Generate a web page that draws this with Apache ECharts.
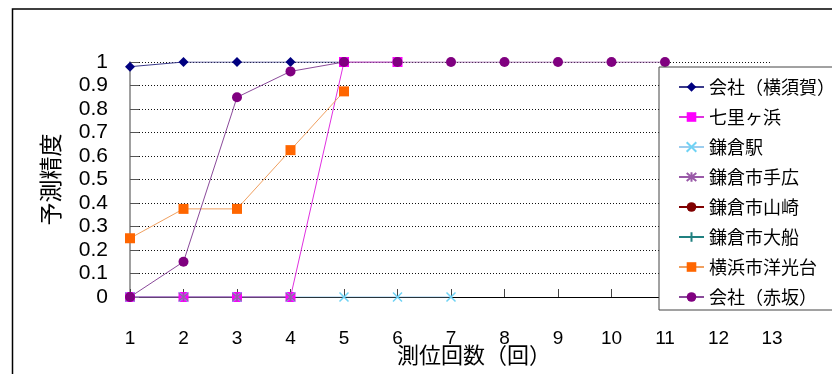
<!DOCTYPE html>
<html>
<head>
<meta charset="utf-8">
<script src="https://cdn.jsdelivr.net/npm/echarts@6/dist/echarts.min.js"></script>
<style>
  html, body { margin: 0; padding: 0; background: #fff; }
  #chart { width: 832px; height: 374px; }
</style>
</head>
<body>
<div id="chart"></div>
<script>
// Positioning rounds (x axis categories)
const rounds = ['1','2','3','4','5','6','7','8','9','10','11','12','13'];
const yTicks = [0, 0.1, 0.2, 0.3, 0.4, 0.5, 0.6, 0.7, 0.8, 0.9, 1];

// Prediction accuracy per location, indexed by round
const yokosuka = [0.98, 1, 1, 1, 1];
const shichirigahama = [0, 0, 0, 0, 1, 1];
const kamakuraStation = [0, 0, 0, 0, 0, 0, 0];
const kamakuraTebiro = [0, 0, 0, 0];
const kamakuraYamazaki = [];
const kamakuraOfuna = [];
const yokohamaYokodai = [0.25, 0.375, 0.375, 0.625, 0.875];
const akasaka = [0, 0.15, 0.85, 0.96, 1, 1, 1, 1, 1, 1, 1];

const seriesNames = ['会社（横須賀）', '七里ヶ浜', '鎌倉駅', '鎌倉市手広', '鎌倉市山崎', '鎌倉市大船', '横浜市洋光台', '会社（赤坂）'];

const JP = '"Noto Sans CJK JP", sans-serif';
const NUM = '"Liberation Sans", Arial, sans-serif';

const X_PATH = 'path://M0,0L10,10M10,0L0,10';
const STAR_PATH = 'path://M0,0L10,10M10,0L0,10M5,-1L5,11';
const PLUS_PATH = 'path://M5,0L5,10M0,5L10,5';

function lineSeries(name, data, color, symbol, size, lineColor, stroked) {
  return {
    name: name,
    type: 'line',
    data: data,
    symbol: symbol,
    symbolSize: size,
    showAllSymbol: true,
    animation: false,
    lineStyle: { color: lineColor || color, width: 1 },
    itemStyle: stroked
      ? { color: color, borderColor: color, borderWidth: 1.5 }
      : { color: color, borderWidth: 0 },
    emphasis: { disabled: true }
  };
}

const chart = echarts.init(document.getElementById('chart'));
chart.setOption({
  animation: false,
  backgroundColor: '#fff',
  grid: { left: 130, right: 60, top: 62, bottom: 77, containLabel: false, outerBoundsMode: 'none' },
  xAxis: {
    type: 'category',
    data: rounds,
    boundaryGap: false,
    name: '測位回数（回）',
    nameLocation: 'middle',
    nameMoveOverlap: false,
    nameGap: 47,
    nameTextStyle: { fontFamily: JP, fontSize: 22, color: '#000', padding: [0, 0, 0, 46] },
    axisLine: { lineStyle: { color: '#000', width: 1 } },
    axisTick: { inside: true, length: 8, lineStyle: { color: '#444' } },
    axisLabel: { margin: 32, fontFamily: NUM, fontSize: 19, color: '#000' },
    splitLine: { show: false }
  },
  yAxis: {
    type: 'value',
    min: 0,
    max: 1,
    interval: 0.1,
    name: '予測精度',
    nameLocation: 'middle',
    nameRotate: 90,
    nameGap: 68,
    nameTextStyle: { fontFamily: JP, fontSize: 23, color: '#000' },
    axisLine: { show: true, lineStyle: { color: '#808080', width: 1.5 } },
    axisTick: { show: true, inside: true, length: 9, lineStyle: { color: '#555' } },
    axisLabel: {
      margin: 22, fontFamily: NUM, fontSize: 21, color: '#000',
      formatter: function (v) {
        const t = yTicks.find(function (k) { return Math.abs(k - v) < 1e-6; });
        return String(t !== undefined ? t : v);
      }
    },
    splitLine: { show: true, lineStyle: { color: '#111', type: [1, 2], width: 1 } }
  },
  legend: {
    orient: 'vertical',
    left: 659,
    top: 67,
    padding: [10, 40, 3, 19],
    itemGap: 10,
    itemWidth: 25,
    itemHeight: 12,
    backgroundColor: '#fff',
    borderColor: '#444',
    borderWidth: 1,
    borderRadius: 0,
    selectedMode: false,
    textStyle: { fontFamily: JP, fontSize: 18, color: '#000', lineHeight: 20 },
    data: seriesNames
  },
  graphic: [
    {
      type: 'rect',
      silent: true,
      shape: { x: 12.5, y: 9, width: 900, height: 500 },
      style: { fill: 'none', stroke: '#000', lineWidth: 1.5 }
    }
  ],
  series: [
    lineSeries(seriesNames[0], yokosuka, '#000080', 'diamond', [10, 10], '#3a3a8a'),
    lineSeries(seriesNames[1], shichirigahama, '#ff00ff', 'rect', [10, 10], '#e030e0'),
    lineSeries(seriesNames[2], kamakuraStation, '#6fd3f5', X_PATH, [9, 9], '#9ccdee', true),
    lineSeries(seriesNames[3], kamakuraTebiro, '#9a5aa8', STAR_PATH, [9, 9], '#9a5aa8', true),
    lineSeries(seriesNames[4], kamakuraYamazaki, '#800000', 'circle', [10, 10]),
    lineSeries(seriesNames[5], kamakuraOfuna, '#208080', PLUS_PATH, [10, 10], '#208080', true),
    lineSeries(seriesNames[6], yokohamaYokodai, '#ff6600', 'rect', [10, 10], '#f0a060'),
    lineSeries(seriesNames[7], akasaka, '#800080', 'circle', [10, 10], '#8a4a9a')
  ]
});
</script>
</body>
</html>
